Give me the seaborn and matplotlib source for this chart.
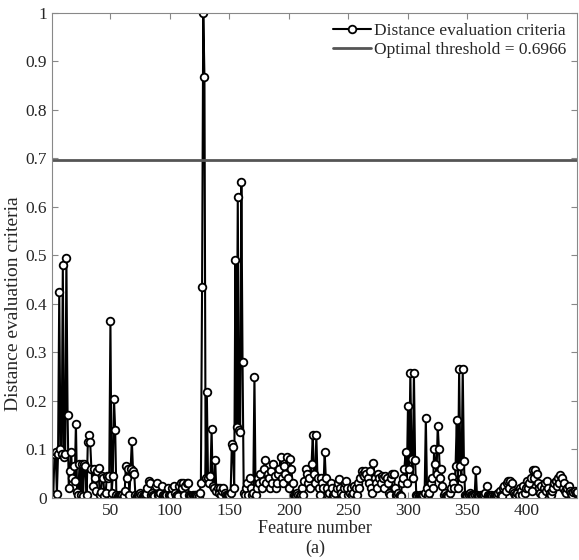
import numpy as np
import pandas as pd
import matplotlib
matplotlib.use('Agg')
import matplotlib.pyplot as plt
import seaborn as sns

# distance evaluation criteria, features 1..442
criteria = [
    0.003, 0.006, 0.09, 0.095, 0.008, 0.09, 0.425, 0.1, 0.09, 0.48,
    0.085, 0.09, 0.495, 0.17, 0.02, 0.055, 0.095, 0.04, 0.065, 0.035,
    0.153, 0.012, 0.005, 0.07, 0.006, 0.07, 0.004, 0.07, 0.065, 0.005,
    0.115, 0.129, 0.115, 0.06, 0.025, 0.06, 0.04, 0.015, 0.055, 0.062,
    0.005, 0.012, 0.045, 0.04, 0.004, 0.01, 0.045, 0.04, 0.045, 0.365,
    0.01, 0.045, 0.204, 0.14, 0.005, 0.003, 0.004, 0.006, 0.003, 0.005,
    0.004, 0.015, 0.065, 0.04, 0.06, 0.005, 0.06, 0.118, 0.055, 0.05,
    0.005, 0.004, 0.006, 0.003, 0.01, 0.005, 0.004, 0.003, 0.005, 0.008,
    0.02, 0.035, 0.03, 0.005, 0.01, 0.005, 0.004, 0.025, 0.03, 0.005,
    0.004, 0.01, 0.025, 0.005, 0.003, 0.004, 0.006, 0.02, 0.005, 0.004,
    0.005, 0.02, 0.025, 0.01, 0.004, 0.005, 0.003, 0.025, 0.03, 0.02,
    0.03, 0.005, 0.025, 0.03, 0.03, 0.005, 0.004, 0.003, 0.005, 0.004,
    0.006, 0.005, 0.003, 0.004, 0.01, 0.03, 0.435, 1.0, 0.868, 0.04,
    0.218, 0.04, 0.03, 0.045, 0.141, 0.025, 0.02, 0.079, 0.015, 0.02,
    0.01, 0.02, 0.005, 0.015, 0.02, 0.01, 0.005, 0.004, 0.006, 0.005,
    0.01, 0.11, 0.105, 0.02, 0.49, 0.146, 0.62, 0.14, 0.136, 0.652,
    0.281, 0.01, 0.005, 0.02, 0.03, 0.005, 0.04, 0.02, 0.005, 0.01,
    0.25, 0.005, 0.02, 0.04, 0.03, 0.05, 0.02, 0.035, 0.06, 0.079,
    0.03, 0.05, 0.04, 0.02, 0.055, 0.03, 0.07, 0.045, 0.02, 0.03,
    0.05, 0.06, 0.084, 0.04, 0.03, 0.065, 0.05, 0.084, 0.04, 0.02,
    0.08, 0.06, 0.03, 0.005, 0.003, 0.004, 0.01, 0.005, 0.003, 0.006,
    0.02, 0.005, 0.035, 0.06, 0.05, 0.03, 0.04, 0.02, 0.07, 0.129,
    0.05, 0.03, 0.129, 0.04, 0.02, 0.005, 0.04, 0.03, 0.02, 0.095,
    0.04, 0.02, 0.005, 0.01, 0.03, 0.02, 0.005, 0.004, 0.01, 0.02,
    0.03, 0.038, 0.02, 0.01, 0.005, 0.02, 0.03, 0.035, 0.02, 0.005,
    0.01, 0.02, 0.005, 0.01, 0.025, 0.02, 0.005, 0.03, 0.02, 0.04,
    0.055, 0.05, 0.045, 0.055, 0.05, 0.04, 0.03, 0.055, 0.02, 0.01,
    0.072, 0.04, 0.03, 0.02, 0.05, 0.04, 0.03, 0.045, 0.04, 0.02,
    0.045, 0.04, 0.03, 0.01, 0.005, 0.04, 0.05, 0.05, 0.02, 0.005,
    0.005, 0.01, 0.005, 0.003, 0.03, 0.04, 0.06, 0.095, 0.03, 0.19,
    0.06, 0.258, 0.08, 0.04, 0.258, 0.077, 0.005, 0.003, 0.004, 0.005,
    0.003, 0.004, 0.005, 0.01, 0.164, 0.02, 0.005, 0.01, 0.03, 0.04,
    0.02, 0.101, 0.07, 0.05, 0.148, 0.101, 0.04, 0.06, 0.025, 0.005,
    0.01, 0.004, 0.005, 0.003, 0.01, 0.02, 0.042, 0.03, 0.02, 0.066,
    0.16, 0.02, 0.266, 0.066, 0.04, 0.266, 0.075, 0.005, 0.004, 0.003,
    0.005, 0.01, 0.005, 0.006, 0.004, 0.005, 0.057, 0.005, 0.003, 0.004,
    0.005, 0.003, 0.004, 0.006, 0.01, 0.024, 0.005, 0.004, 0.003, 0.005,
    0.004, 0.003, 0.005, 0.004, 0.006, 0.01, 0.015, 0.005, 0.003, 0.02,
    0.025, 0.015, 0.03, 0.034, 0.02, 0.034, 0.03, 0.015, 0.01, 0.005,
    0.004, 0.01, 0.005, 0.02, 0.015, 0.005, 0.024, 0.01, 0.02, 0.034,
    0.02, 0.03, 0.04, 0.015, 0.057, 0.04, 0.057, 0.05, 0.03, 0.02,
    0.01, 0.025, 0.005, 0.02, 0.03, 0.015, 0.034, 0.02, 0.01, 0.005,
    0.015, 0.02, 0.03, 0.034, 0.025, 0.04, 0.03, 0.048, 0.04, 0.02,
    0.03, 0.015, 0.01, 0.02, 0.025, 0.015, 0.01, 0.005, 0.012, 0.015,
    0.01, 0.012,
]
features = list(range(1, len(criteria) + 1))
threshold = 0.6966

xticks = [50, 100, 150, 200, 250, 300, 350, 400]
yticks = [0, 0.1, 0.2, 0.3, 0.4, 0.5, 0.6, 0.7, 0.8, 0.9, 1]
ytick_labels = ['0', '0.1', '0.2', '0.3', '0.4', '0.5', '0.6', '0.7', '0.8', '0.9', '1']

sns.set_style('ticks')
plt.rcParams['font.family'] = ['Liberation Serif', 'DejaVu Serif']
plt.rcParams['xtick.direction'] = 'in'
plt.rcParams['ytick.direction'] = 'in'

df = pd.DataFrame({'feature': features, 'criteria': criteria})

fig = plt.figure(figsize=(5.79, 5.60), dpi=100)
ax = fig.add_axes([0.09, 0.111, 0.9065, 0.866])

sns.lineplot(x='feature', y='criteria', data=df, ax=ax, color='black', linewidth=1.5,
             marker='o', markersize=5.5, markerfacecolor='white', markeredgecolor='black',
             markeredgewidth=1.3, label='Distance evaluation criteria')
ax.axhline(threshold, color='#555555', linewidth=2,
           label='Optimal threshold = %.4f' % threshold)

ax.set_xlim(1, len(criteria))
ax.set_ylim(0, 1)
ax.set_xticks(xticks)
ax.set_yticks(yticks)
ax.set_yticklabels(ytick_labels)
ax.tick_params(labelsize=12.5, length=4, color='#888888', top=True, right=True)
for s in ax.spines.values():
    s.set_color('#888888')
    s.set_linewidth(0.8)

ax.set_xlabel('Feature number', fontsize=13, labelpad=1)
ax.set_ylabel('Distance evaluation criteria', fontsize=14)
ax.yaxis.set_label_coords(-0.057, 0.40)
ax.legend(loc='upper right', frameon=False, fontsize=12.5, handlelength=2.2,
          handletextpad=0.2, borderaxespad=0.2, labelspacing=0.15)
fig.text(0.545, 0.012, '(a)', ha='center', fontsize=13)

fig.savefig('out.png', dpi=100)
